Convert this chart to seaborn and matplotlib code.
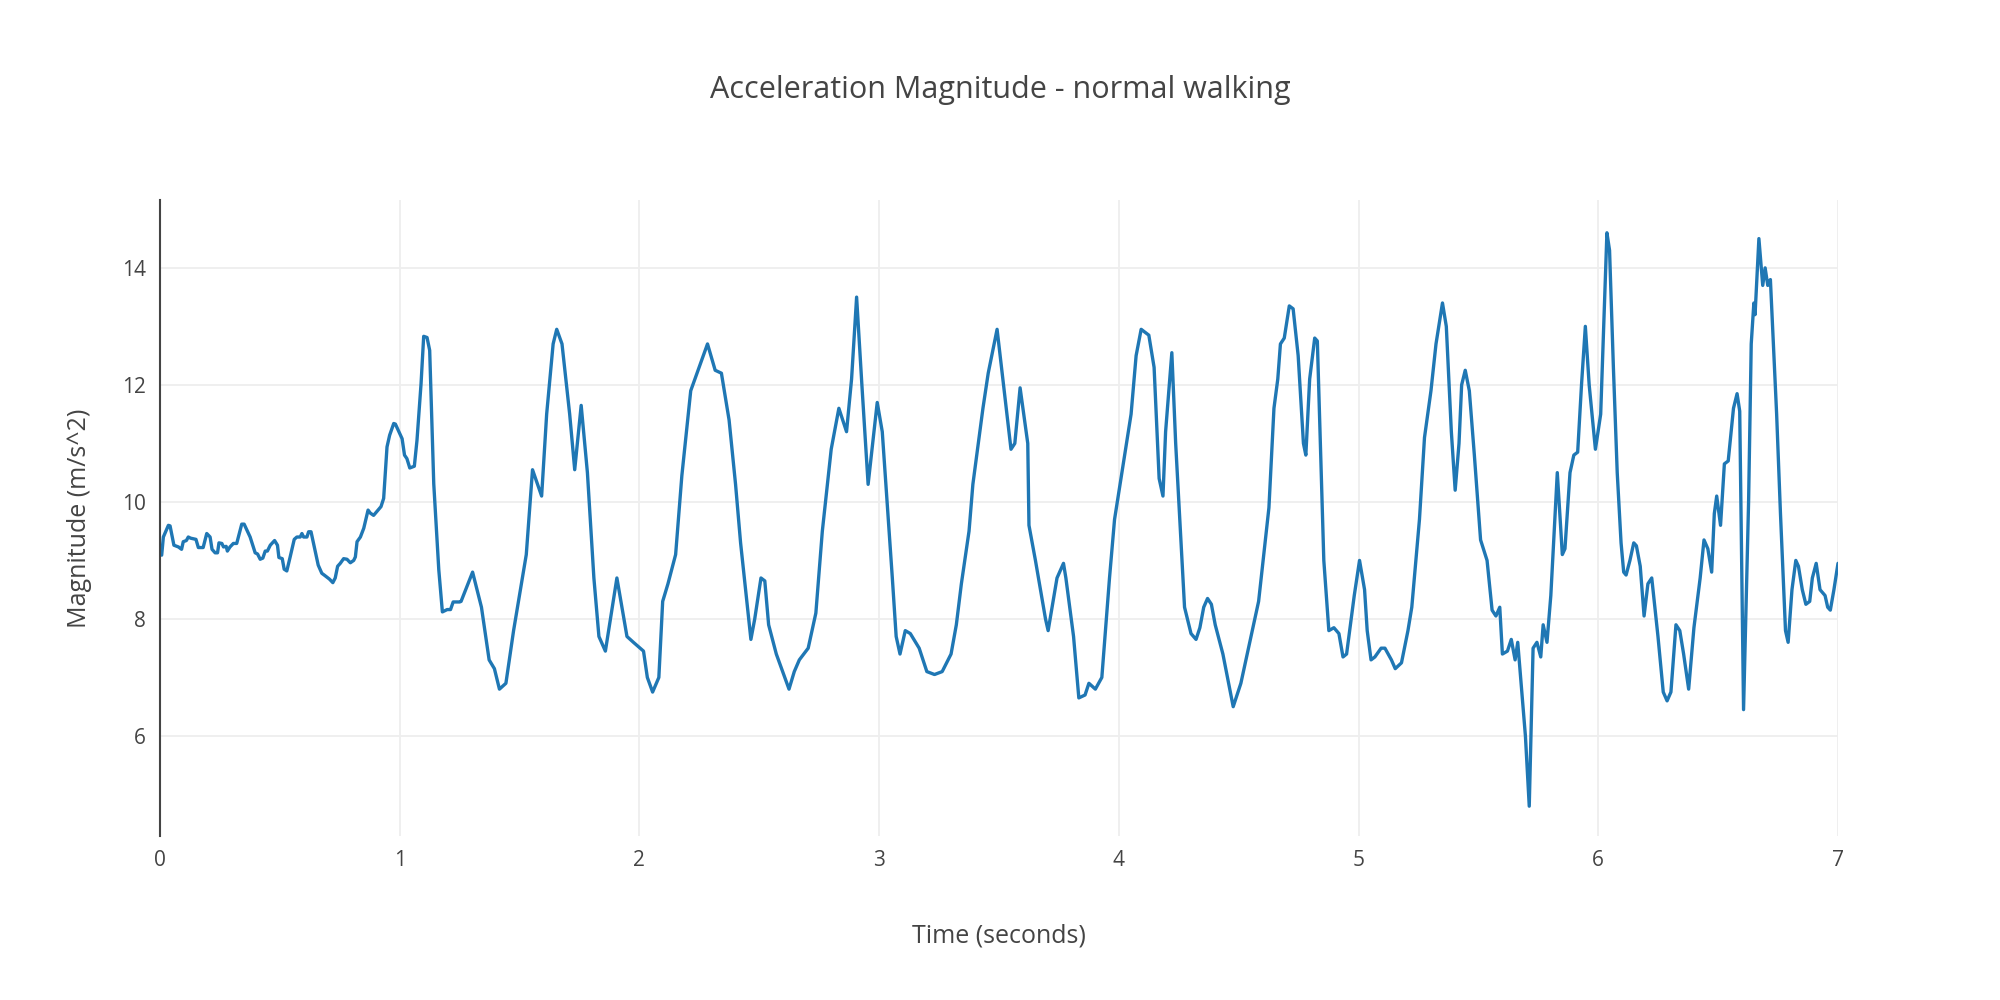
import seaborn as sns
import pandas as pd
import matplotlib
matplotlib.use("Agg")
import matplotlib.pyplot as plt

# Values
time_s = [
    0.007, 0.014, 0.035, 0.042, 0.058, 0.077, 0.09, 0.097, 0.11, 0.118, 0.128, 0.15, 0.16, 0.18,
    0.195, 0.209, 0.217, 0.23, 0.24, 0.246, 0.258, 0.265, 0.276, 0.281, 0.292, 0.306, 0.32,
    0.341, 0.351, 0.376, 0.397, 0.407, 0.418, 0.429, 0.439, 0.448, 0.46, 0.478, 0.49, 0.496,
    0.51, 0.518, 0.529, 0.543, 0.56, 0.571, 0.585, 0.592, 0.599, 0.613, 0.62, 0.63, 0.647,
    0.66, 0.675, 0.685, 0.707, 0.721, 0.731, 0.741, 0.752, 0.766, 0.78, 0.794, 0.808, 0.815,
    0.822, 0.836, 0.85, 0.868, 0.877, 0.891, 0.912, 0.922, 0.933, 0.947, 0.958, 0.975, 0.982,
    1.01, 1.02, 1.03, 1.042, 1.061, 1.072, 1.089, 1.1, 1.114, 1.125, 1.142, 1.163, 1.178,
    1.198, 1.212, 1.223, 1.25,
    1.256, 1.304, 1.341, 1.373, 1.395, 1.416, 1.443, 1.475, 1.528, 1.554, 1.592, 1.613, 1.640,
    1.655, 1.677, 1.709, 1.730, 1.757, 1.783, 1.810, 1.831, 1.858, 1.906, 1.948, 1.975, 2.017,
    2.033, 2.055, 2.081, 2.097, 2.119, 2.151, 2.177, 2.214, 2.284, 2.316, 2.342, 2.374, 2.401,
    2.422, 2.465, 2.481, 2.507, 2.523, 2.539, 2.571, 2.624, 2.646, 2.667, 2.704, 2.736, 2.763,
    2.800, 2.832, 2.864, 2.885, 2.906, 2.928, 2.954, 2.992, 3.013, 3.055, 3.071, 3.087, 3.109,
    3.130, 3.167, 3.199, 3.231, 3.263, 3.300, 3.322, 3.343, 3.375, 3.391, 3.433, 3.455, 3.492,
    3.519, 3.550, 3.566, 3.588, 3.620, 3.625, 3.652, 3.694, 3.705, 3.742, 3.769, 3.779, 3.811,
    3.833, 3.859, 3.875, 3.902, 3.929, 3.961, 3.982, 4.051, 4.072, 4.093, 4.125, 4.147, 4.168,
    4.184, 4.195, 4.221, 4.237, 4.274, 4.301, 4.322, 4.338, 4.354, 4.370, 4.386, 4.402, 4.434,
    4.477, 4.509, 4.567, 4.583, 4.626, 4.647, 4.663, 4.674, 4.690, 4.711, 4.727, 4.748, 4.770,
    4.780, 4.796, 4.817, 4.828, 4.855, 4.876, 4.897, 4.918, 4.935, 4.950, 4.982, 5.004, 5.025,
    5.036, 5.052, 5.068, 5.094, 5.110, 5.137, 5.153, 5.179, 5.206, 5.222, 5.254, 5.275, 5.302,
    5.323, 5.350, 5.366, 5.387, 5.403, 5.419, 5.430, 5.445, 5.462, 5.483, 5.509, 5.536, 5.557,
    5.573, 5.589, 5.600, 5.621, 5.637, 5.653, 5.664, 5.680, 5.696, 5.712, 5.728, 5.744, 5.760,
    5.770, 5.786, 5.802, 5.829, 5.850, 5.861, 5.882, 5.898, 5.914, 5.930, 5.946, 5.962, 5.988,
    6.010, 6.036, 6.047, 6.063, 6.079, 6.095, 6.106, 6.116, 6.132, 6.148, 6.159, 6.175, 6.191,
    6.207, 6.223, 6.249, 6.271, 6.287, 6.303, 6.324, 6.340, 6.356, 6.377, 6.399, 6.425, 6.441,
    6.457, 6.473, 6.484, 6.494, 6.510, 6.526, 6.542, 6.564, 6.579, 6.590, 6.606, 6.627, 6.638,
    6.649, 6.654, 6.670, 6.686, 6.696, 6.707, 6.718, 6.744, 6.760, 6.781, 6.792, 6.808, 6.824,
    6.835, 6.851, 6.866, 6.882, 6.893, 6.909, 6.925, 6.946, 6.957, 6.968, 6.983, 7.0,
]
magnitude = [
    9.09, 9.40, 9.60, 9.59, 9.26, 9.23, 9.19, 9.32, 9.34, 9.40, 9.38, 9.36, 9.22, 9.22,
    9.46, 9.40, 9.19, 9.13, 9.13, 9.30, 9.29, 9.23, 9.24, 9.16, 9.23, 9.29, 9.29,
    9.62, 9.62, 9.40, 9.13, 9.11, 9.02, 9.04, 9.16, 9.16, 9.26, 9.34, 9.26, 9.05,
    9.03, 8.85, 8.82, 9.06, 9.36, 9.40, 9.40, 9.46, 9.40, 9.40, 9.49, 9.49, 9.17,
    8.92, 8.78, 8.75, 8.68, 8.62, 8.70, 8.90, 8.95, 9.03, 9.02, 8.96, 9.00, 9.06,
    9.32, 9.40, 9.55, 9.86, 9.81, 9.77, 9.87, 9.92, 10.06, 10.94, 11.14, 11.34, 11.33,
    11.08, 10.80, 10.74, 10.58, 10.61, 11.05, 12.02, 12.83, 12.81, 12.59, 10.31, 8.84, 8.12,
    8.16, 8.16, 8.29, 8.29,
    8.3, 8.8, 8.2, 7.3, 7.15, 6.8, 6.9, 7.8, 9.1, 10.55, 10.1, 11.5, 12.7,
    12.95, 12.7, 11.5, 10.55, 11.65, 10.5, 8.7, 7.7, 7.45, 8.7, 7.7, 7.6, 7.45,
    7.0, 6.75, 7.0, 8.3, 8.6, 9.1, 10.45, 11.9, 12.7, 12.25, 12.2, 11.4, 10.3,
    9.3, 7.65, 8.0, 8.7, 8.65, 7.9, 7.4, 6.8, 7.1, 7.3, 7.5, 8.1, 9.5,
    10.9, 11.6, 11.2, 12.1, 13.5, 12.0, 10.3, 11.7, 11.2, 8.7, 7.7, 7.4, 7.8,
    7.75, 7.5, 7.1, 7.05, 7.1, 7.4, 7.9, 8.6, 9.5, 10.3, 11.6, 12.2, 12.95,
    12.0, 10.9, 11.0, 11.95, 11.0, 9.6, 9.0, 8.0, 7.8, 8.7, 8.95, 8.7, 7.7,
    6.65, 6.7, 6.9, 6.8, 7.0, 8.7, 9.7, 11.5, 12.5, 12.95, 12.85, 12.3, 10.4,
    10.1, 11.2, 12.55, 11.0, 8.2, 7.75, 7.65, 7.85, 8.2, 8.35, 8.25, 7.9, 7.4,
    6.5, 6.9, 8.0, 8.3, 9.9, 11.6, 12.1, 12.7, 12.8, 13.35, 13.3, 12.5, 11.0,
    10.8, 12.1, 12.8, 12.75, 9.0, 7.8, 7.85, 7.75, 7.35, 7.4, 8.4, 9.0, 8.5,
    7.8, 7.3, 7.35, 7.5, 7.5, 7.3, 7.15, 7.25, 7.8, 8.2, 9.7, 11.1, 11.9,
    12.7, 13.4, 13.0, 11.2, 10.2, 11.0, 12.0, 12.25, 11.9, 10.8, 9.35, 9.0, 8.15,
    8.05, 8.2, 7.4, 7.45, 7.65, 7.3, 7.6, 6.8, 6.0, 4.8, 7.5, 7.6, 7.35,
    7.9, 7.6, 8.4, 10.5, 9.1, 9.2, 10.5, 10.8, 10.85, 12.0, 13.0, 12.0, 10.9,
    11.5, 14.6, 14.3, 12.3, 10.5, 9.3, 8.8, 8.75, 9.0, 9.3, 9.25, 8.9, 8.05,
    8.6, 8.7, 7.7, 6.75, 6.6, 6.75, 7.9, 7.8, 7.4, 6.8, 7.85, 8.7, 9.35,
    9.2, 8.8, 9.8, 10.1, 9.6, 10.65, 10.7, 11.6, 11.85, 11.55, 6.45, 10.0, 12.7,
    13.4, 13.2, 14.5, 13.7, 14.0, 13.7, 13.8, 11.5, 9.8, 7.8, 7.6, 8.5, 9.0,
    8.9, 8.5, 8.25, 8.3, 8.7, 8.95, 8.5, 8.4, 8.2, 8.15, 8.5, 8.95,
]

df = pd.DataFrame({"time": time_s, "magnitude": magnitude})

sns.set_style("white")
plt.rcParams["font.family"] = ["Open Sans", "DejaVu Sans"]
grey = "#444444"

fig = plt.figure(figsize=(20, 10), dpi=100)
ax = fig.add_axes([0.08, 0.164, 0.839, 0.636])

sns.lineplot(data=df, x="time", y="magnitude", ax=ax, color="#1f77b4", linewidth=2.4,
             sort=False, estimator=None)

ax.set_xlim(0, 7)
ax.set_ylim(4.29, 15.16)
ax.set_xticks(range(0, 8))
ax.set_yticks([6, 8, 10, 12, 14])
ax.grid(True, color="#eeeeee", linewidth=1.3)
ax.set_axisbelow(True)
for side in ["top", "right", "bottom"]:
    ax.spines[side].set_visible(False)
ax.spines["left"].set_color(grey)
ax.spines["left"].set_linewidth(1.5)
ax.tick_params(axis="both", length=0, labelsize=15, colors=grey, pad=10)

ax.set_xlabel("Time (seconds)", fontsize=18, color=grey, labelpad=38)
ax.set_ylabel("Magnitude (m/s^2)", fontsize=18, color=grey, labelpad=22)
fig.text(0.5, 0.91, "Acceleration Magnitude - normal walking", ha="center", va="center",
         fontsize=22, color=grey)

fig.savefig("out.png", dpi=100)
